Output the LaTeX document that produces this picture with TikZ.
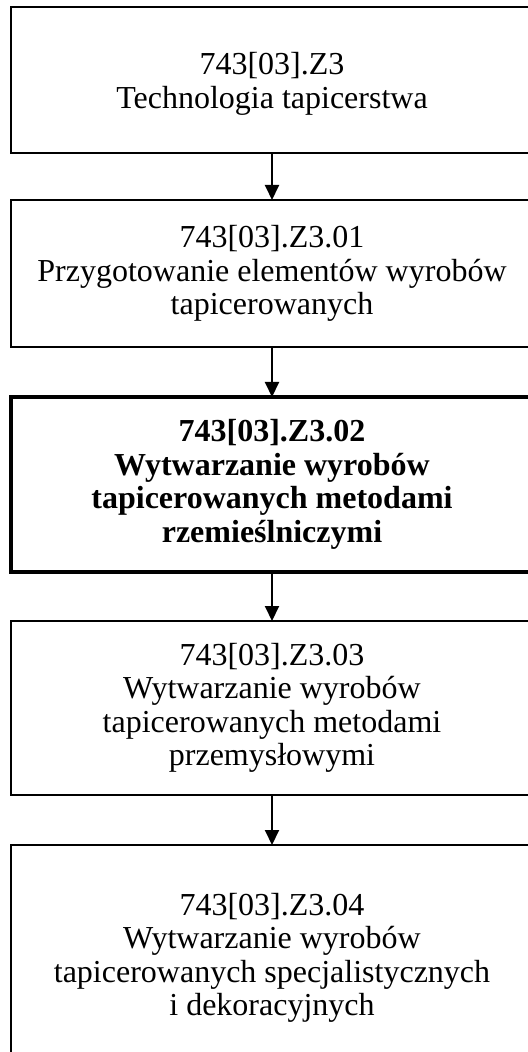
\documentclass[tikz,border=0pt]{standalone}
\usepackage{fontspec}
\setmainfont{Liberation Serif}
\usetikzlibrary{positioning,arrows.meta}

\begin{document}
\begin{tikzpicture}[x=1pt, y=1pt,
  every node/.style={font=\fontsize{16}{16.75}\selectfont},
  unit/.style={draw, line width=1pt, minimum width=261pt, align=center,
    inner sep=0pt, outer sep=0pt},
  current/.style={unit, line width=1.9pt,
    font=\fontsize{16}{16.75}\selectfont\bfseries},
  link/.style={-{Triangle[length=7.5pt,width=7pt]}, line width=1pt}]
\def\pw{264}
\def\ph{526}
\clip (0,0) rectangle (\pw,-\ph);

\node[unit, minimum height=73pt] (z3) at (136,-40)
  {\\[-2pt]743[03].Z3\\Technologia tapicerstwa};
\node[unit, minimum height=73.5pt, below=23.5pt of z3] (z301)
  {743[03].Z3.01\\Przygotowanie elementów wyrobów\\tapicerowanych};
\node[current, minimum height=87.5pt, below=25pt of z301] (z302)
  {743[03].Z3.02\\Wytwarzanie wyrobów\\tapicerowanych metodami\\rzemieślniczymi};
\node[unit, minimum height=87pt, below=24.5pt of z302] (z303)
  {743[03].Z3.03\\Wytwarzanie wyrobów\\tapicerowanych metodami\\przemysłowymi};
\node[unit, minimum height=113pt, below=25pt of z303] (z304)
  {743[03].Z3.04\\Wytwarzanie wyrobów\\tapicerowanych specjalistycznych\\i dekoracyjnych};

\foreach \a/\b in {z3/z301, z301/z302, z302/z303, z303/z304}
  \draw[link] (\a) -- (\b);
\end{tikzpicture}
\end{document}
